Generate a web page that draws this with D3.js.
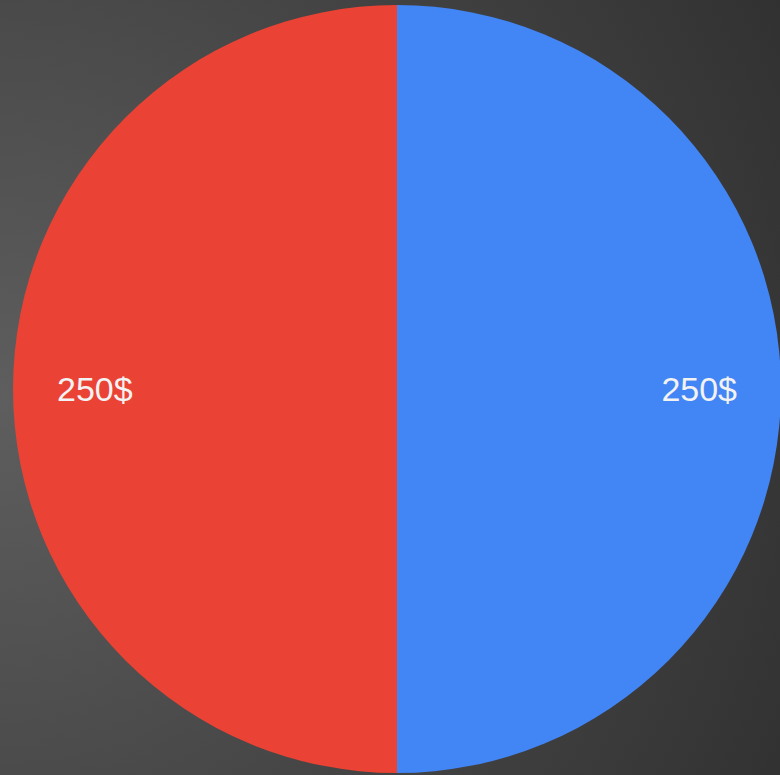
<!DOCTYPE html>
<html>
<head>
<meta charset="utf-8">
<script src="https://cdn.jsdelivr.net/npm/d3@7/dist/d3.min.js"></script>
<style>
html,body{margin:0;padding:0;overflow:hidden;background:#444;}
svg{display:block;}
</style>
</head>
<body>
<svg id="chart" width="780" height="775"></svg>
<script>
const categories = ["A", "B"];
const values = [250, 250];
const labels = ["250$", "250$"];
const colors = ["#4285F4", "#EA4335"];

const W = 780, H = 775;
const svg = d3.select("#chart");
const defs = svg.append("defs");
const grad = defs.append("radialGradient").attr("id", "bg")
  .attr("gradientUnits", "userSpaceOnUse")
  .attr("cx", 0).attr("cy", 400).attr("r", 900);
grad.append("stop").attr("offset", "0%").attr("stop-color", "#5e5e5e");
grad.append("stop").attr("offset", "100%").attr("stop-color", "#303030");
svg.append("rect").attr("width", W).attr("height", H).attr("fill", "url(#bg)");

const cx = 397, cy = 389, r = 384;
const data = categories.map((c, i) => ({cat: c, value: values[i], label: labels[i], color: colors[i]}));
const pie = d3.pie().value(d => d.value).sort(null);
const arc = d3.arc().innerRadius(0).outerRadius(r);
const labelArc = d3.arc().innerRadius(r * 0.787).outerRadius(r * 0.787);

const g = svg.append("g").attr("transform", `translate(${cx},${cy})`);
const arcs = pie(data);
g.selectAll("path.slice").data(arcs).join("path")
  .attr("class", "slice")
  .attr("d", arc)
  .attr("fill", d => d.data.color);

g.selectAll("text.lbl").data(arcs).join("text")
  .attr("class", "lbl")
  .attr("transform", d => `translate(${labelArc.centroid(d)})`)
  .attr("text-anchor", "middle")
  .attr("dy", "0.35em")
  .attr("fill", "#f2f2f2")
  .style("font-family", "'Liberation Sans', Arial, sans-serif")
  .style("font-size", "34px")
  .text(d => d.data.label);
</script>
</body>
</html>
